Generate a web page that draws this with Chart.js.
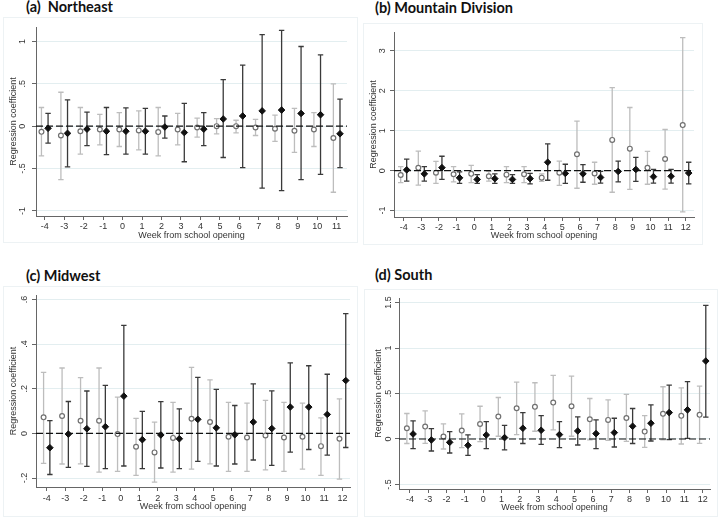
<!DOCTYPE html>
<html>
<head>
<meta charset="utf-8">
<title>Regression coefficients by week from school opening</title>
<script src="https://cdn.jsdelivr.net/npm/chart.js@4.4.1/dist/chart.umd.min.js"></script>
<style>
  body { margin: 0; background: #fff; }
  #page { position: relative; width: 720px; height: 517px; overflow: hidden; }
  .frame { position: absolute; border: 1px solid #edf2f4; box-sizing: border-box; }
  .title { position: absolute; font: bold 14.5px Lato, sans-serif; line-height: 16px; white-space: pre; color: #111; }
  canvas { position: absolute; }
</style>
</head>
<body>
<div id="page"></div>
<script>
// weeks on the x axis
const weeksA = [-4, -3, -2, -1, 0, 1, 2, 3, 4, 5, 6, 7, 8, 9, 10, 11];
const weeksBCD = [-4, -3, -2, -1, 0, 1, 2, 3, 4, 5, 6, 7, 8, 9, 10, 11, 12];

// y axis tick labels
const yTicksA = [-1, -0.5, 0, 0.5, 1];
const yTicksB = [-1, 0, 1, 2, 3];
const yTicksC = [-0.2, 0, 0.2, 0.4, 0.6];
const yTicksD = [-0.5, 0, 0.5, 1, 1.5];

// (a) Northeast: hollow (grey) and filled (black) estimates with 95% CI
const ptOpenA = [-0.067, -0.11, -0.06, -0.04, -0.04, -0.05, -0.07, -0.04, -0.015, 0.0, 0.0, -0.015, -0.03, -0.055, -0.04, -0.14];
const hiOpenA = [0.22, 0.40, 0.22, 0.14, 0.16, 0.18, 0.22, 0.15, 0.095, 0.09, 0.07, 0.08, 0.13, 0.21, 0.16, 0.50];
const loOpenA = [-0.35, -0.63, -0.33, -0.22, -0.24, -0.28, -0.35, -0.22, -0.13, -0.09, -0.08, -0.11, -0.18, -0.31, -0.24, -0.78];
const ptFillA = [-0.025, -0.085, -0.035, -0.06, -0.06, -0.06, -0.01, -0.075, -0.035, 0.085, 0.12, 0.18, 0.19, 0.15, 0.135, -0.09];
const hiFillA = [0.15, 0.31, 0.165, 0.22, 0.215, 0.21, 0.12, 0.27, 0.16, 0.55, 0.72, 1.08, 1.13, 0.94, 0.84, 0.32];
const loFillA = [-0.20, -0.48, -0.23, -0.335, -0.33, -0.33, -0.14, -0.42, -0.23, -0.37, -0.49, -0.73, -0.76, -0.63, -0.57, -0.49];

// (b) Mountain Division
const ptOpenB = [-0.11, 0.07, -0.05, -0.09, -0.08, -0.14, -0.10, -0.09, -0.175, -0.05, 0.41, -0.07, 0.77, 0.55, 0.07, 0.29, 1.14];
const hiOpenB = [0.10, 0.49, 0.23, 0.10, 0.13, -0.02, 0.10, 0.10, -0.08, 0.24, 1.24, 0.21, 2.08, 1.58, 0.48, 1.03, 3.33];
const loOpenB = [-0.30, -0.36, -0.32, -0.28, -0.30, -0.26, -0.30, -0.30, -0.27, -0.37, -0.44, -0.34, -0.54, -0.47, -0.34, -0.46, -1.03];
const ptFillB = [0.02, -0.08, 0.075, -0.18, -0.22, -0.20, -0.22, -0.20, 0.21, -0.07, -0.08, -0.17, -0.02, 0.03, -0.15, -0.14, -0.06];
const hiFillB = [0.29, 0.10, 0.36, -0.03, -0.10, -0.08, -0.10, -0.07, 0.67, 0.16, 0.15, -0.02, 0.24, 0.33, 0.03, 0.03, 0.21];
const loFillB = [-0.26, -0.26, -0.22, -0.32, -0.32, -0.32, -0.32, -0.33, -0.24, -0.32, -0.29, -0.31, -0.28, -0.27, -0.31, -0.31, -0.33];

// (c) Midwest
const ptOpenC = [0.072, 0.078, 0.057, 0.057, -0.003, -0.06, -0.085, -0.02, 0.066, 0.051, -0.015, -0.018, -0.009, -0.018, -0.015, -0.057, -0.024];
const hiOpenC = [0.273, 0.293, 0.25, 0.293, 0.163, 0.067, 0.051, 0.139, 0.296, 0.24, 0.139, 0.136, 0.148, 0.139, 0.136, 0.07, 0.155];
const loOpenC = [-0.134, -0.137, -0.136, -0.173, -0.17, -0.188, -0.218, -0.173, -0.16, -0.136, -0.17, -0.17, -0.163, -0.17, -0.16, -0.188, -0.205];
const ptFillC = [-0.064, -0.003, 0.021, 0.03, 0.167, -0.028, -0.007, -0.024, 0.063, 0.025, -0.006, 0.051, 0.022, 0.118, 0.118, 0.085, 0.237];
const hiFillC = [0.057, 0.143, 0.19, 0.215, 0.484, 0.099, 0.142, 0.11, 0.251, 0.197, 0.125, 0.222, 0.191, 0.316, 0.303, 0.265, 0.537];
const loFillC = [-0.184, -0.152, -0.148, -0.158, -0.146, -0.158, -0.155, -0.158, -0.125, -0.146, -0.137, -0.119, -0.143, -0.084, -0.072, -0.097, -0.063];

// (d) South
const ptOpenD = [0.118, 0.136, 0.026, 0.092, 0.165, 0.246, 0.338, 0.353, 0.40, 0.36, 0.217, 0.21, 0.23, 0.081, 0.276, 0.254, 0.265];
const hiOpenD = [0.28, 0.31, 0.165, 0.276, 0.36, 0.456, 0.625, 0.618, 0.70, 0.69, 0.445, 0.43, 0.49, 0.257, 0.574, 0.5625, 0.58];
const loOpenD = [-0.05, -0.048, -0.11, -0.096, -0.03, 0.03, 0.048, 0.085, 0.10, 0.03, -0.01, -0.015, -0.026, -0.092, -0.01, -0.055, -0.048];
const ptFillD = [0.055, -0.011, -0.037, -0.07, 0.044, 0.015, 0.118, 0.096, 0.048, 0.088, 0.059, 0.07, 0.14, 0.173, 0.29, 0.32, 0.857];
const hiFillD = [0.2, 0.114, 0.081, 0.044, 0.19, 0.15, 0.29, 0.257, 0.19, 0.243, 0.21, 0.228, 0.335, 0.375, 0.592, 0.63, 1.47];
const loFillD = [-0.107, -0.132, -0.154, -0.18, -0.107, -0.12, -0.05, -0.06, -0.096, -0.066, -0.107, -0.088, -0.05, -0.022, -0.007, 0.007, 0.24];

const panels = [
  { title: '(a)  Northeast', titleAt: [26, -1], box: [3, 17, 355, 226], weeks: weeksA, xRange: [-4.45, 11.53],
    yTicks: yTicksA, yRange: [-1.06, 1.17], open: [ptOpenA, loOpenA, hiOpenA], fill: [ptFillA, loFillA, hiFillA],
    yAxisW: 33, xAxisH: 27, padTop: 10, padRight: 11, yLabelX: 19.7, yTitlePad: 5.6, xTickPad: 1.5, xTitlePad: 1.6 },
  { title: '(b) Mountain Division', titleAt: [375, 0], box: [363, 23, 340, 222], weeks: weeksBCD, xRange: [-4.55, 12.47],
    yTicks: yTicksB, yRange: [-1.16, 3.47], open: [ptOpenB, loOpenB, hiOpenB], fill: [ptFillB, loFillB, hiFillB],
    yAxisW: 31, xAxisH: 28, padTop: 9, padRight: 9, yLabelX: 19.7, yTitlePad: 5.6, xTickPad: 1.2, xTitlePad: 3.6 },
  { title: '(c) Midwest', titleAt: [26, 268], box: [3, 286, 355, 231], weeks: weeksBCD, xRange: [-4.58, 12.4],
    yTicks: yTicksC, yRange: [-0.24, 0.62], open: [ptOpenC, loOpenC, hiOpenC], fill: [ptFillC, loFillC, hiFillC],
    yAxisW: 33, xAxisH: 30, padTop: 9, padRight: 8, yLabelX: 22, yTitlePad: 4.9, xTickPad: 1.8, xTitlePad: 5.3 },
  { title: '(d) South', titleAt: [375, 267], box: [364, 289, 354, 228], weeks: weeksBCD, xRange: [-4.6, 12.4],
    yTicks: yTicksD, yRange: [-0.55, 1.55], open: [ptOpenD, loOpenD, hiOpenD], fill: [ptFillD, loFillD, hiFillD],
    yAxisW: 35, xAxisH: 28, padTop: 9, padRight: 8, yLabelX: 24.3, yTitlePad: 8.9, xTickPad: 1, xTitlePad: 4.3 }
];

const FONT = "'Liberation Sans', Arial, sans-serif";
Chart.defaults.font.family = FONT;
Chart.defaults.font.size = 9;
Chart.defaults.color = '#333';

// Stata style numbers: .5 instead of 0.5
function stataLabel(v) {
  return String(v).replace(/^(-?)0\./, '$1.');
}

function seriesPoints(weeks, vals, shift) {
  return weeks.map((w, i) => ({ x: w + shift, y: vals[i] }));
}

// draws the confidence interval whiskers with caps
const errorBars = {
  id: 'errorBars',
  beforeDatasetsDraw(chart) {
    const { ctx, scales: { x, y } } = chart;
    chart.data.datasets.forEach(ds => {
      if (!ds.hi) return;
      ctx.save();
      ctx.strokeStyle = ds.barColor;
      ctx.lineWidth = 1.3;
      ds.data.forEach((p, i) => {
        const px = x.getPixelForValue(p.x);
        const top = y.getPixelForValue(ds.hi[i]);
        const bot = y.getPixelForValue(ds.lo[i]);
        ctx.beginPath();
        ctx.moveTo(px, top); ctx.lineTo(px, bot);
        ctx.moveTo(px - 2.7, top); ctx.lineTo(px + 2.7, top);
        ctx.moveTo(px - 2.7, bot); ctx.lineTo(px + 2.7, bot);
        ctx.stroke();
      });
      ctx.restore();
    });
  }
};

// y tick labels written vertically, bottom to top, like Stata does
const verticalYLabels = {
  id: 'verticalYLabels',
  afterDraw(chart, args, opts) {
    const { ctx, scales: { y } } = chart;
    ctx.save();
    ctx.font = `9px ${FONT}`;
    ctx.fillStyle = '#333';
    ctx.textAlign = 'center';
    ctx.textBaseline = 'middle';
    y.ticks.forEach(t => {
      ctx.save();
      ctx.translate(opts.x, y.getPixelForValue(t.value));
      ctx.rotate(-Math.PI / 2);
      ctx.fillText(stataLabel(t.value), 0, 0);
      ctx.restore();
    });
    ctx.restore();
  }
};

const page = document.getElementById('page');

panels.forEach(p => {
  const [left, top, width, height] = p.box;

  const frame = document.createElement('div');
  frame.className = 'frame';
  frame.style.cssText = `left:${left}px;top:${top}px;width:${width}px;height:${height}px`;
  page.appendChild(frame);

  const title = document.createElement('div');
  title.className = 'title';
  title.textContent = p.title;
  title.style.left = p.titleAt[0] + 'px';
  title.style.top = p.titleAt[1] + 'px';
  page.appendChild(title);

  const canvas = document.createElement('canvas');
  canvas.width = width;
  canvas.height = height;
  canvas.style.left = left + 'px';
  canvas.style.top = top + 'px';
  page.appendChild(canvas);

  new Chart(canvas.getContext('2d'), {
    type: 'scatter',
    data: {
      datasets: [
        {
          type: 'line',
          data: [{ x: p.xRange[0], y: 0 }, { x: p.xRange[1], y: 0 }],
          borderColor: '#111',
          borderWidth: 1.2,
          borderDash: [7, 3],
          pointRadius: 0
        },
        {
          data: seriesPoints(p.weeks, p.open[0], -0.17),
          lo: p.open[1],
          hi: p.open[2],
          barColor: '#bdbdbd',
          pointStyle: 'circle',
          pointRadius: 2.4,
          borderWidth: 1.2,
          borderColor: '#707070',
          backgroundColor: '#fff'
        },
        {
          data: seriesPoints(p.weeks, p.fill[0], 0.17),
          lo: p.fill[1],
          hi: p.fill[2],
          barColor: '#3a3a3a',
          pointStyle: 'rectRot',
          pointRadius: 3.3,
          borderWidth: 1,
          borderColor: '#111',
          backgroundColor: '#111'
        }
      ]
    },
    options: {
      responsive: false,
      animation: false,
      layout: { padding: { top: p.padTop, right: p.padRight, left: 0, bottom: 0 } },
      plugins: {
        legend: { display: false },
        tooltip: { enabled: false },
        verticalYLabels: { x: p.yLabelX }
      },
      scales: {
        x: {
          type: 'linear',
          min: p.xRange[0],
          max: p.xRange[1],
          afterBuildTicks: s => { s.ticks = p.weeks.map(v => ({ value: v })); },
          afterFit: s => { s.height = p.xAxisH; },
          ticks: { padding: p.xTickPad, maxRotation: 0, autoSkip: false, callback: v => String(v) },
          grid: { drawOnChartArea: false, tickLength: 4, tickColor: '#666' },
          border: { color: '#666', width: 1 },
          title: { display: true, text: 'Week from school opening', padding: { top: 0, bottom: p.xTitlePad } }
        },
        y: {
          min: p.yRange[0],
          max: p.yRange[1],
          afterBuildTicks: s => { s.ticks = p.yTicks.map(v => ({ value: v })); },
          afterFit: s => { s.width = p.yAxisW; },
          ticks: { display: false },
          grid: { color: '#e3eef0', tickLength: 4, tickColor: '#666' },
          border: { color: '#666', width: 1 },
          title: { display: true, text: 'Regression coefficient', padding: { top: p.yTitlePad, bottom: 0 } }
        }
      }
    },
    plugins: [errorBars, verticalYLabels]
  });
});
</script>
</body>
</html>
